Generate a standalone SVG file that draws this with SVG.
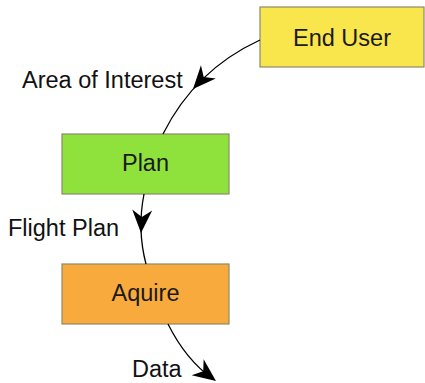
<svg xmlns="http://www.w3.org/2000/svg" width="425" height="383" viewBox="0 0 425 383">
<defs>
<style>
.box{stroke:#8a8a6a;stroke-width:1.2}
.lbl{font-family:"Liberation Sans",Arial,sans-serif;font-size:23.5px;fill:#111}
.nlbl{font-family:"Liberation Sans",Arial,sans-serif;font-size:23.5px;fill:#1a1a1a;text-anchor:middle}
.edge{fill:none;stroke:#000;stroke-width:1.3}
</style>
<path id="ah" d="M0,0 L-23,-10 L-16,0 L-23,10 Z" fill="#000"/>
</defs>
<rect width="425" height="383" fill="#fff"/>
<g id="end-user">
<rect class="box" x="260" y="7" width="164" height="60" fill="#f9e54c"/>
<text class="nlbl" x="342" y="46">End User</text>
</g>
<g id="plan">
<rect class="box" x="62" y="134" width="167" height="60" fill="#8fe23b"/>
<text class="nlbl" x="145.5" y="171">Plan</text>
</g>
<g id="aquire">
<rect class="box" x="62" y="264" width="167" height="60" fill="#f9aa3d"/>
<text class="nlbl" x="145.5" y="301">Aquire</text>
</g>
<g id="connectors">
<path class="edge" d="M260,40 Q195,70 163,134"/>
<use href="#ah" transform="translate(193,89) rotate(132)"/>
<path class="edge" d="M144,194 Q137,230 146,264"/>
<use href="#ah" transform="translate(141,233) rotate(93)"/>
<path class="edge" d="M168,324 Q186,360 213,379"/>
<use href="#ah" transform="translate(216,381) rotate(37)"/>
</g>
<g id="labels">
<text class="lbl" x="22" y="88">Area of Interest</text>
<text class="lbl" x="8" y="236">Flight Plan</text>
<text class="lbl" x="132" y="377">Data</text>
</g>
</svg>
